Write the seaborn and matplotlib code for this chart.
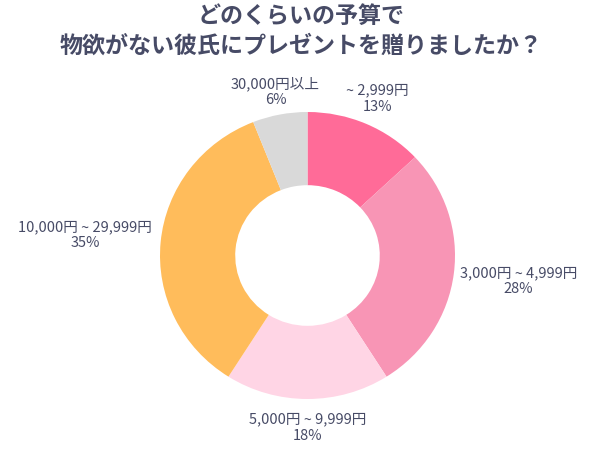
import matplotlib
matplotlib.use("Agg")
import matplotlib.pyplot as plt
import seaborn as sns
import numpy as np

sns.set_theme(style="white")
plt.rcParams['font.family'] = ['Noto Sans CJK JP', 'DejaVu Sans']

categories = ["~ 2,999円", "3,000円 ~ 4,999円", "5,000円 ~ 9,999円", "10,000円 ~ 29,999円", "30,000円以上"]
values = [13, 28, 18, 35, 6]
colors = ["#FF6B98", "#F895B5", "#FFD5E5", "#FFBC5B", "#D9D9D9"]
label_dist = [1.19, 1.44, 1.20, 1.515, 1.16]
text_color = "#474b66"

fig = plt.figure(figsize=(6.02, 4.51), dpi=100)
w_ax, h_ax = 295 / 602, 287 / 451
cx, cy = 307.5 / 602, 1 - 255.5 / 451
ax = fig.add_axes([cx - w_ax / 2, cy - h_ax / 2, w_ax, h_ax])

wedges, _ = ax.pie(values, colors=colors, startangle=90, counterclock=False,
                   wedgeprops=dict(width=0.51, edgecolor="white", linewidth=0))
ax.set_aspect("auto")
ax.set_xlim(-1, 1)
ax.set_ylim(-1, 1)

for w, cat, v, d in zip(wedges, categories, values, label_dist):
    ang = np.deg2rad((w.theta1 + w.theta2) / 2)
    ax.text(d * np.cos(ang), d * np.sin(ang), f"{cat}\n{v}%", ha="center", va="center",
            fontsize=10.5, color=text_color, linespacing=1.2, clip_on=False)

fig.text(0.5, 0.99, "どのくらいの予算で\n物欲がない彼氏にプレゼントを贈りましたか？",
         ha="center", va="top", fontsize=16.6, fontweight="bold", color=text_color,
         linespacing=1.38)

fig.savefig("out.png", dpi=100, facecolor="white")
